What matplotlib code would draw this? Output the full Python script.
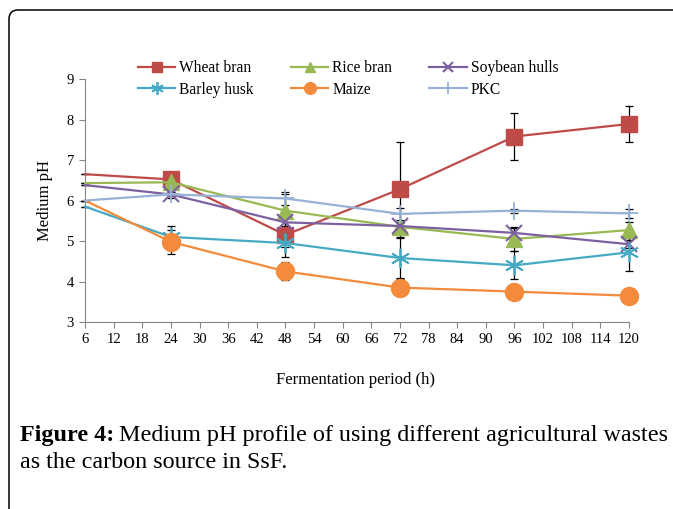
import matplotlib
matplotlib.use("Agg")
import matplotlib.pyplot as plt
from matplotlib.patches import FancyBboxPatch

plt.rcParams['font.family'] = ['Liberation Serif', 'DejaVu Serif']

hours = [6, 24, 48, 72, 96, 120]
series_names = ["Wheat bran", "Rice bran", "Soybean hulls", "Barley husk", "Maize", "PKC"]
wheat = [6.65, 6.52, 5.15, 6.28, 7.58, 7.89]
rice = [6.43, 6.45, 5.75, 5.35, 5.05, 5.27]
soybean = [6.38, 6.15, 5.46, 5.37, 5.20, 4.92]
barley = [5.85, 5.10, 4.95, 4.58, 4.40, 4.72]
maize = [6.00, 4.98, 4.25, 3.85, 3.75, 3.65]
pkc = [6.00, 6.15, 6.05, 5.67, 5.75, 5.68]
wheat_err = [0, 0.10, 0.55, 1.17, 0.58, 0.45]
rice_err = [0, 0.10, 0.40, 0.10, 0.30, 0.20]
soybean_err = [0, 0.10, 0.10, 0.10, 0.12, 0.10]
barley_err = [0, 0.27, 0.10, 0.50, 0.35, 0.45]
maize_err = [0, 0.30, 0.22, 0.20, 0.05, 0.05]
pkc_err = [0, 0.05, 0.15, 0.15, 0.05, 0.10]
xticks = list(range(6, 121, 6))
yticks = [3, 4, 5, 6, 7, 8, 9]

values = [wheat, rice, soybean, barley, maize, pkc]
errors = [wheat_err, rice_err, soybean_err, barley_err, maize_err, pkc_err]
colors = ["#BE4B48", "#98B954", "#7D60A0", "#46AAC5", "#F38A3C", "#97B2D6"]
markers = ["s", "^", "x", (6, 2, 0), "o", "+"]
msizes = [11.5, 11.5, 12, 14, 13, 13]
mews = [1, 1, 1.5, 1.3, 1, 1.3]

fig = plt.figure(figsize=(6.73, 5.09), dpi=100)
ax = fig.add_axes([85/673, 1-322/509, (629-85)/673, (322-79)/509])

handles = []
for name, v, e, c, m, ms, mw in zip(series_names, values, errors, colors, markers, msizes, mews):
    eb = ax.errorbar(hours, v, yerr=e, fmt='none', ecolor='black', elinewidth=0.9,
                     capsize=2.8, capthick=0.9, zorder=2)
    for art in list(eb.lines[1]) + list(eb.lines[2]):
        art.set_clip_on(False)
    ln, = ax.plot(hours, v, color=c, lw=1.6, marker=m, markersize=ms,
                  markeredgewidth=mw, markeredgecolor=c, markerfacecolor=c,
                  markevery=slice(1, None), zorder=3, label=name, clip_on=False)
    handles.append(ln)

ax.set_xlim(6, 120)
ax.set_ylim(3, 9)
ax.set_xticks(xticks)
ax.set_yticks(yticks)
ax.tick_params(axis='both', direction='out', length=4, width=0.8, color='#868686',
               labelsize=10.5, pad=4)
for s in ['top', 'right']:
    ax.spines[s].set_visible(False)
for s in ['left', 'bottom']:
    ax.spines[s].set_color('#868686')
    ax.spines[s].set_linewidth(0.8)

ax.set_ylabel("Medium pH", fontsize=12, labelpad=10)
fig.text(355/673, 1-380/509, "Fermentation period (h)", fontsize=12,
         ha='center', va='center')

order = [0, 3, 1, 4, 2, 5]
leg = fig.legend([handles[i] for i in order], [series_names[i] for i in order],
                 ncol=3, loc='center', bbox_to_anchor=(348/673, 1-79/509),
                 frameon=False, fontsize=11.2, handlelength=2.4, handletextpad=0.25,
                 columnspacing=2.4, labelspacing=0.35, markerscale=0.65)

# Caption
fig.canvas.draw()
r = fig.canvas.get_renderer()
cap_fs = 17.4
t1 = fig.text(20/673, 1-435/509, "Figure 4:", fontsize=cap_fs, fontweight='bold',
              ha='left', va='center')
bb = t1.get_window_extent(renderer=r)
fig.text((bb.x1 + 5)/673, 1-435/509, "Medium pH profile of using different agricultural wastes",
         fontsize=cap_fs, ha='left', va='center')
fig.text(20/673, 1-462/509, "as the carbon source in SsF.", fontsize=cap_fs,
         ha='left', va='center')

# Rounded frame
frame = FancyBboxPatch((0.09, -0.5), 8.0, 4.99 + 0.5, boxstyle="round,pad=0,rounding_size=0.09",
                       transform=fig.dpi_scale_trans, fill=False, edgecolor='black',
                       linewidth=1.1, clip_on=False)
fig.patches.append(frame)

fig.savefig("out.png", dpi=100)
